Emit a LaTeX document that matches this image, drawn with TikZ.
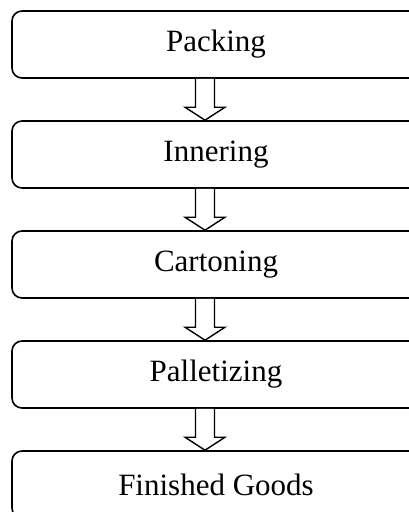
\documentclass[tikz,border=0pt]{standalone}
\usepackage{fontspec}
\setmainfont{Liberation Serif}
\usetikzlibrary{calc}

\newcommand{\flowarrow}[2]{%
  \draw[hollow] ($(#1.south)+(-20.5,0)$) -- ($(#2.north)+(-20.5,13)$)
    -- ($(#2.north)+(-31,13)$) -- ($(#2.north)+(-11,0)$)
    -- ($(#2.north)+(9,13)$) -- ($(#2.north)+(-1.5,13)$)
    -- ($(#1.south)+(-1.5,0)$);}

\begin{document}
\begin{tikzpicture}[x=1pt, y=1pt,
  box/.style={draw, line width=1.6pt, rounded corners=10pt, minimum width=408pt,
              minimum height=67pt, inner sep=0pt, font=\fontsize{31}{37}\selectfont},
  hollow/.style={draw, line width=1.4pt, fill=white, line join=miter}
]
  \useasboundingbox (0,0) rectangle (409,-512);
  \fill[white] (0,0) rectangle (409,-512);

  \node[box] (pack)   at (216,-44.5)  {Packing};
  \node[box] (inner)  at (216,-154.5) {Innering};
  \node[box] (carton) at (216,-264.5) {Cartoning};
  \node[box] (pallet) at (216,-374.5) {Palletizing};
  \node[box] (goods)  at (216,-484.5) {Finished Goods};

  \flowarrow{pack}{inner}
  \flowarrow{inner}{carton}
  \flowarrow{carton}{pallet}
  \flowarrow{pallet}{goods}
\end{tikzpicture}
\end{document}
